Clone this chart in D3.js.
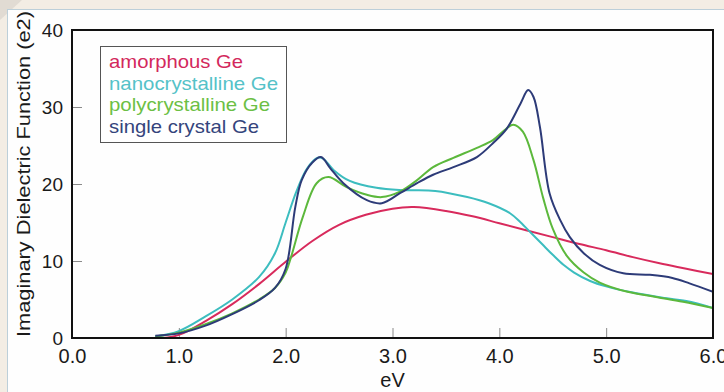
<!DOCTYPE html>
<html>
<head>
<meta charset="utf-8">
<script src="https://cdn.jsdelivr.net/npm/d3@7"></script>
<style>
  html, body { margin: 0; padding: 0; background: #f3ede4; }
  svg { display: block; }
  text { font-family: "Liberation Sans", Arial, sans-serif; }
</style>
</head>
<body>
<svg id="chart" width="724" height="392"></svg>
<script>
// Imaginary part of the dielectric function of germanium in different forms
const seriesNames = ["amorphous Ge", "nanocrystalline Ge", "polycrystalline Ge", "single crystal Ge"];
const seriesColors = ["#d82a5c", "#3cbdbf", "#5cb83c", "#2d3b78"];
const legendColors = ["#d3285c", "#55c2c8", "#6cbf45", "#34447c"];

const amorphousEv = [0.85, 1.0, 1.25, 1.5, 1.75, 2.0, 2.25, 2.5, 2.75, 3.0, 3.2, 3.5, 3.75, 4.0, 4.25, 4.5, 4.75, 5.0, 5.25, 5.5, 5.75, 6.0];
const amorphousE2 = [0.0, 0.4, 2.2, 4.4, 7.0, 9.9, 12.6, 14.7, 16.0, 16.8, 17.0, 16.5, 15.8, 14.9, 14.0, 13.1, 12.2, 11.4, 10.5, 9.7, 9.0, 8.3];

const nanoEv = [0.78, 1.0, 1.25, 1.5, 1.75, 1.9, 2.0, 2.1, 2.2, 2.3, 2.35, 2.45, 2.6, 2.85, 3.1, 3.4, 3.7, 3.9, 4.1, 4.2, 4.3, 4.4, 4.5, 4.6, 4.7, 4.85, 5.0, 5.25, 5.5, 5.75, 6.0];
const nanoE2 = [0.2, 0.9, 2.8, 5.0, 7.9, 11.0, 15.0, 19.0, 22.0, 23.4, 23.3, 21.8, 20.4, 19.5, 19.2, 19.1, 18.3, 17.5, 16.2, 15.0, 13.6, 12.2, 10.8, 9.5, 8.5, 7.4, 6.7, 5.9, 5.3, 4.8, 3.9];

const polyEv = [0.78, 1.0, 1.25, 1.5, 1.75, 1.9, 2.0, 2.05, 2.16, 2.29, 2.4, 2.57, 2.76, 2.9, 3.07, 3.23, 3.38, 3.57, 3.79, 3.94, 4.05, 4.13, 4.22, 4.32, 4.41, 4.5, 4.63, 4.79, 4.94, 5.2, 5.48, 5.72, 6.0];
const polyE2 = [0.2, 0.7, 1.8, 3.2, 5.0, 6.5, 8.5, 10.5, 15.7, 20.1, 20.9, 19.6, 18.6, 18.3, 19.0, 20.5, 22.2, 23.4, 24.7, 25.7, 27.0, 27.7, 26.8, 23.1, 18.2, 14.2, 10.7, 8.5, 7.2, 6.0, 5.3, 4.7, 3.9];

const singleEv = [0.78, 1.0, 1.25, 1.5, 1.75, 1.9, 2.0, 2.09, 2.15, 2.25, 2.33, 2.42, 2.54, 2.76, 2.9, 3.07, 3.23, 3.38, 3.57, 3.79, 3.94, 4.07, 4.2, 4.27, 4.32, 4.38, 4.47, 4.57, 4.66, 4.79, 4.94, 5.16, 5.41, 5.62, 5.78, 6.0];
const singleE2 = [0.3, 0.6, 1.6, 3.1, 4.9, 6.5, 9.0, 17.0, 20.5, 22.8, 23.5, 22.0, 20.1, 17.9, 17.5, 18.8, 20.1, 21.2, 22.2, 23.5, 25.3, 27.2, 30.5, 32.2, 31.3, 27.4, 18.8, 15.3, 13.1, 11.0, 9.5, 8.4, 8.2, 7.8, 7.1, 6.0];

const xTicks = [0, 1, 2, 3, 4, 5, 6];
const yTicks = [0, 10, 20, 30, 40];
const xLabel = "eV";
const yLabel = "Imaginary Dielectric Function (e2)";

const svg = d3.select("#chart");
const W = 724, H = 392;
const plot = { left: 72, right: 713, top: 30, bottom: 338 };

// page background and white panel
svg.append("rect").attr("width", W).attr("height", H).attr("fill", "#f3ede4");
svg.append("polygon").attr("points", "0,0 22,0 0,20").attr("fill", "#d8d3cc").attr("opacity", 0.7);
svg.append("rect").attr("x", 7.5).attr("y", 9.5).attr("width", W).attr("height", H)
  .attr("fill", "#fefefe").attr("stroke", "#bccfd9").attr("stroke-width", 1);

const x = d3.scaleLinear().domain([0, 6]).range([plot.left, plot.right]);
const y = d3.scaleLinear().domain([0, 40]).range([plot.bottom, plot.top]);

// ticks pointing inward
const xAxis = d3.axisBottom(x).tickValues(xTicks).tickSize(-10).tickFormat(d3.format(".1f")).tickPadding(12);
const yAxis = d3.axisLeft(y).tickValues(yTicks).tickSize(-10).tickFormat(d3.format("d")).tickPadding(9);

const gx = svg.append("g").attr("transform", `translate(0,${plot.bottom})`).call(xAxis);
gx.select(".domain").remove();
gx.selectAll(".tick line").attr("stroke", "#8a8a8a").attr("stroke-width", 1);
gx.selectAll(".tick text").attr("fill", "#1a1a1a").attr("font-size", 20).attr("dy", "0.66em");

const gy = svg.append("g").attr("transform", `translate(${plot.left},0)`).call(yAxis);
gy.select(".domain").remove();
gy.selectAll(".tick line").attr("stroke", "#8a8a8a").attr("stroke-width", 1);
gy.selectAll(".tick text").attr("fill", "#1a1a1a").attr("font-size", 19);

// series curves
const seriesData = [
  d3.zip(amorphousEv, amorphousE2),
  d3.zip(nanoEv, nanoE2),
  d3.zip(polyEv, polyE2),
  d3.zip(singleEv, singleE2)
];
const line = d3.line()
  .x(d => x(d[0]))
  .y(d => y(d[1]))
  .curve(d3.curveCatmullRom.alpha(0.5));

svg.append("defs").append("clipPath").attr("id", "plotClip")
  .append("rect").attr("x", plot.left).attr("y", plot.top)
  .attr("width", plot.right - plot.left).attr("height", plot.bottom - plot.top);

const curves = svg.append("g").attr("clip-path", "url(#plotClip)");
seriesData.forEach((pts, i) => {
  curves.append("path")
    .attr("d", line(pts))
    .attr("fill", "none")
    .attr("stroke", seriesColors[i])
    .attr("stroke-width", 2)
    .attr("stroke-linejoin", "round");
});

// plot frame
svg.append("rect")
  .attr("x", plot.left).attr("y", plot.top)
  .attr("width", plot.right - plot.left).attr("height", plot.bottom - plot.top)
  .attr("fill", "none").attr("stroke", "#111").attr("stroke-width", 2);

// legend
const legend = svg.append("g");
legend.append("rect").attr("x", 100.5).attr("y", 46.5).attr("width", 186).attr("height", 96)
  .attr("fill", "#fff").attr("stroke", "#555").attr("stroke-width", 1);
const legendWidths = [134, 169, 161, 150];
seriesNames.forEach((name, i) => {
  legend.append("text")
    .attr("x", 109).attr("y", 68 + i * 21.5)
    .attr("font-size", 18.5)
    .attr("fill", legendColors[i])
    .attr("textLength", legendWidths[i])
    .attr("lengthAdjust", "spacingAndGlyphs")
    .text(name);
});

// axis titles
svg.append("text")
  .attr("x", x(3)).attr("y", 387)
  .attr("text-anchor", "middle").attr("font-size", 20).attr("fill", "#1a1a1a")
  .text(xLabel);

svg.append("text")
  .attr("transform", "translate(30,174) rotate(-90)")
  .attr("text-anchor", "middle").attr("font-size", 18.5).attr("fill", "#1a1a1a")
  .attr("textLength", 326).attr("lengthAdjust", "spacingAndGlyphs")
  .text(yLabel);
</script>
</body>
</html>
